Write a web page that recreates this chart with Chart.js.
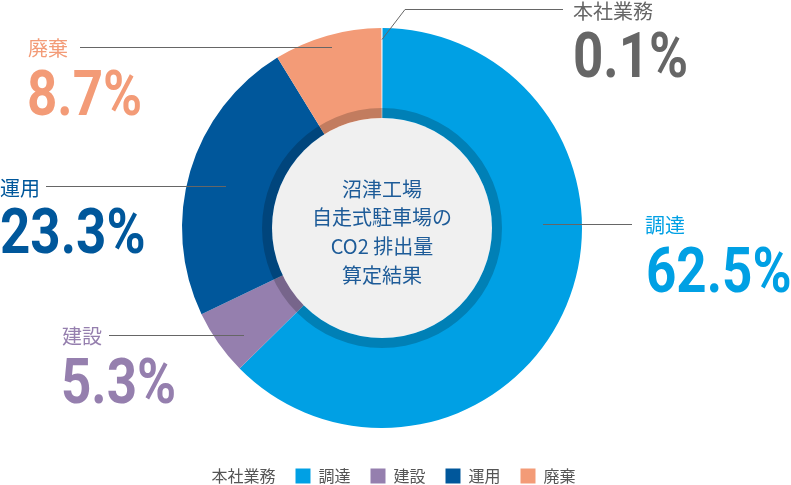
<!DOCTYPE html>
<html lang="ja">
<head>
<meta charset="utf-8">
<title>CO2 排出量 算定結果</title>
<script src="https://cdn.jsdelivr.net/npm/chart.js@4.4.1/dist/chart.umd.min.js"></script>
<style>
  html, body { margin: 0; padding: 0; background: #fff; }
  #wrap { position: relative; width: 791px; height: 485px; }
</style>
</head>
<body>
<div id="wrap"><canvas id="co2Chart"></canvas></div>
<script>
// data
const categories = ['本社業務', '調達', '建設', '運用', '廃棄']
const shares = [0.1, 62.5, 5.3, 23.3, 8.7]
const centerTitle = ['沼津工場', '自走式駐車場の', 'CO2 排出量', '算定結果']

const sliceColors = ['#ffffff', '#00a0e4', '#957fae', '#00579b', '#f39b77']
const labelColors = ['#666666', '#00a0e4', '#957fae', '#00579b', '#f39b77']

// where each callout sits (canvas px): label, big number, leader line
const callouts = {
    '本社業務': { label: [573, 11], num: [573, 77], line: [[382, 39], [405, 9], [563, 9]] },
    '調達': { label: [645, 225], num: [646, 292], line: [[543, 224], [632, 224]] },
    '建設': { label: [62, 336], num: [61, 403], line: [[109, 335], [244, 335]] },
    '運用': { label: [0, 188], num: [0, 253], line: [[46, 186], [226, 186]] },
    '廃棄': { label: [28, 48], num: [27, 115], line: [[80, 47], [332, 47]] }
}

const JP = '"Noto Sans CJK JP", "Noto Sans", sans-serif'

const centerPlugin = {
    id: 'centerDisc',
    afterDatasetsDraw(chart) {
        const arc = chart.getDatasetMeta(0).data[0]
        if (!arc) return
        const ctx = chart.ctx
        const cx = arc.x, cy = arc.y
        ctx.save()
        // darker ring just outside the disc
        ctx.beginPath()
        ctx.arc(cx, cy, 120, 0, Math.PI * 2)
        ctx.arc(cx, cy, 110, 0, Math.PI * 2, true)
        ctx.fillStyle = 'rgba(0, 0, 0, 0.2)'
        ctx.fill()
        ctx.beginPath()
        ctx.arc(cx, cy, 110, 0, Math.PI * 2)
        ctx.fillStyle = '#f0f0f0'
        ctx.fill()

        ctx.fillStyle = '#1d5b98'
        ctx.font = '20px ' + JP
        ctx.textAlign = 'center'
        ctx.textBaseline = 'middle'
        centerTitle.forEach((line, i) => {
            ctx.fillText(line, cx, cy - 39 + i * 28.7)
        })
        ctx.restore()
    }
}

const calloutPlugin = {
    id: 'callouts',
    afterDraw(chart) {
        const ctx = chart.ctx
        ctx.save()
        categories.forEach((name, i) => {
            const c = callouts[name]
            if (!c) return
            ctx.strokeStyle = '#666'
            ctx.lineWidth = 1
            ctx.beginPath()
            c.line.forEach(([x, y], k) => {
                if (k === 0) ctx.moveTo(x, y + 0.5)
                else ctx.lineTo(x, y + 0.5)
            })
            ctx.stroke()

            ctx.fillStyle = labelColors[i]
            ctx.font = '20px ' + JP
            ctx.textAlign = 'left'
            ctx.textBaseline = 'middle'
            ctx.fillText(name, c.label[0], c.label[1])

            ctx.save()
            ctx.translate(c.num[0], c.num[1])
            ctx.scale(0.84, 1)
            ctx.font = 'bold 63px Roboto, "Liberation Sans", sans-serif'
            ctx.textBaseline = 'alphabetic'
            ctx.fillText(shares[i].toFixed(1) + '%', 0, 0)
            ctx.restore()
        })
        ctx.restore()
    }
}

new Chart(document.getElementById('co2Chart'), {
    type: 'doughnut',
    data: {
        labels: categories,
        datasets: [{
            data: shares,
            backgroundColor: sliceColors,
            borderWidth: 0,
            radius: 200,
            cutout: 110
        }]
    },
    options: {
        responsive: true,
        maintainAspectRatio: false,
        animation: false,
        rotation: -0.2,
        events: [],
        layout: { padding: { left: 0, right: 27, top: 8, bottom: -9 } },
        plugins: {
            tooltip: { enabled: false },
            legend: {
                position: 'bottom',
                labels: {
                    boxWidth: 15,
                    boxHeight: 15,
                    padding: 20,
                    color: '#555',
                    font: { size: 16, family: JP }
                }
            }
        }
    },
    plugins: [centerPlugin, calloutPlugin]
})
</script>
</body>
</html>
